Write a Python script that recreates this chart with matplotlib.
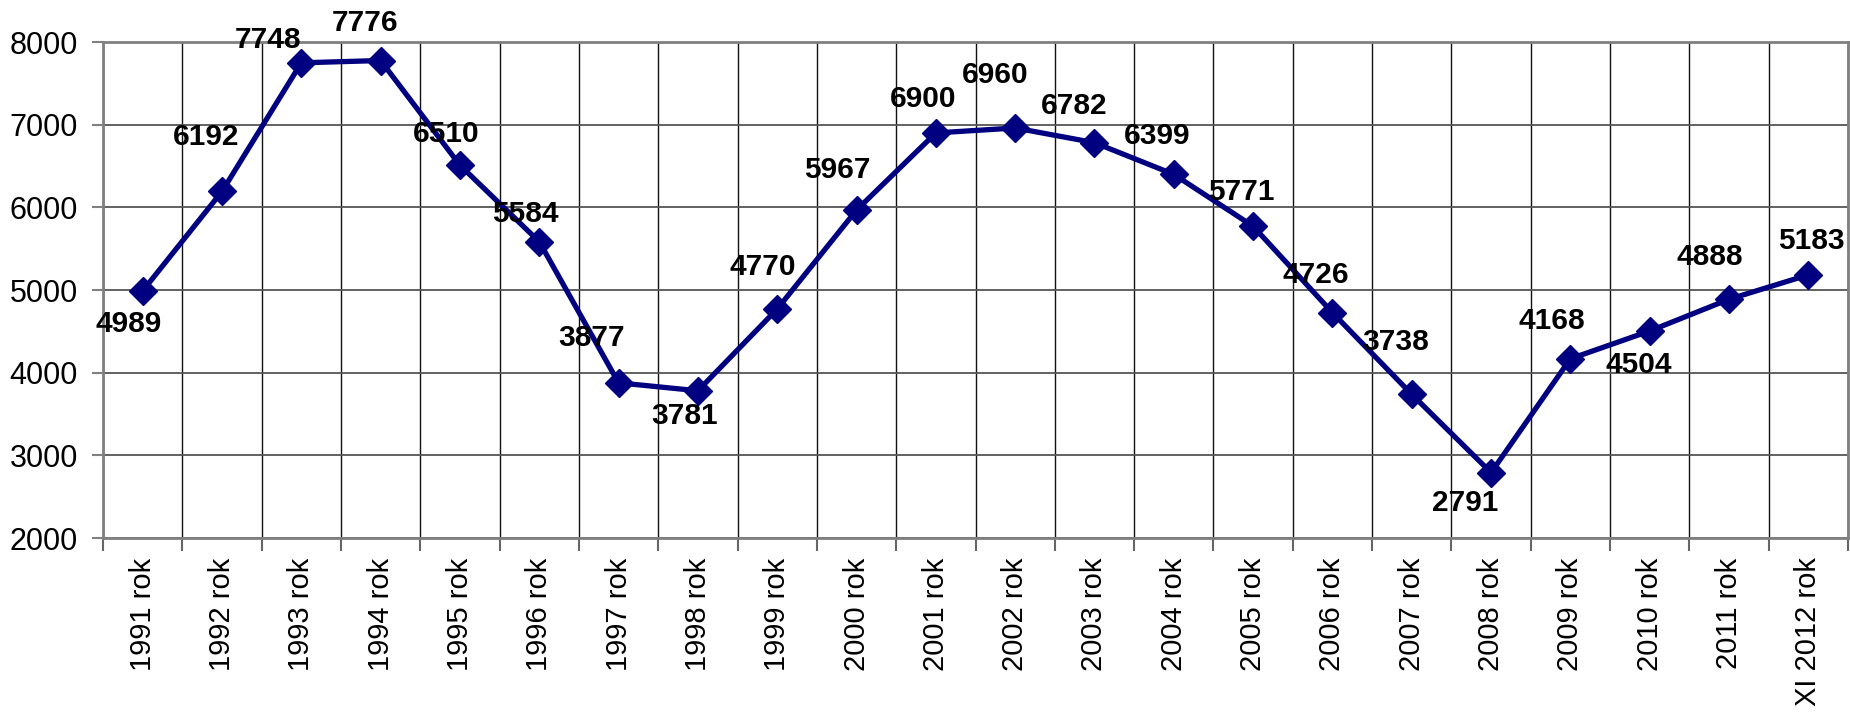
import matplotlib
matplotlib.use("Agg")
import matplotlib.pyplot as plt
from matplotlib.ticker import FixedLocator

# Data
years = ["1991 rok", "1992 rok", "1993 rok", "1994 rok", "1995 rok",
         "1996 rok", "1997 rok", "1998 rok", "1999 rok", "2000 rok",
         "2001 rok", "2002 rok", "2003 rok", "2004 rok", "2005 rok",
         "2006 rok", "2007 rok", "2008 rok", "2009 rok", "2010 rok",
         "2011 rok", "XI 2012 rok"]
values = [4989, 6192, 7748, 7776, 6510, 5584, 3877, 3781, 4770, 5967,
          6900, 6960, 6782, 6399, 5771, 4726, 3738, 2791, 4168, 4504,
          4888, 5183]

# label placement relative to each marker (pixels, dx / dy, y up)
label_dx = [-14, -16, -33, -16, -14, -14, -27, -13, -14, -19, -13,
            -20, -20, -17, -12, -17, -16, -26, -19, -11, -19, 3]
label_dy = [-33, 54, 23, 38, 31, 28, 45, -25, 42, 40, 34,
            53, 37, 38, 34, 38, 52, -30, 38, -34, 42, 34]

plt.rcParams["font.family"] = ["Liberation Sans", "DejaVu Sans"]

fig = plt.figure(figsize=(18.5, 7.12), dpi=100)
ax = fig.add_axes([103 / 1850, 1 - 538 / 712, 1745 / 1850, 496 / 712])

x = list(range(len(values)))
ax.plot(x, values, color="#000080", linewidth=3.8, marker="D",
        markersize=14.5, markeredgecolor="#000080", zorder=3)

for xi, v, dx, dy in zip(x, values, label_dx, label_dy):
    ax.annotate(str(v), (xi, v), xytext=(dx, dy), textcoords="offset pixels",
                ha="center", va="center", fontsize=21.5, fontweight="bold",
                color="black", zorder=4)

ax.set_xlim(-0.5, len(values) - 0.5)
ax.set_ylim(2000, 8000)
ax.set_yticks(range(2000, 8001, 1000))

# category boundaries carry ticks and grid, centres carry the labels
ax.xaxis.set_major_locator(FixedLocator([i - 0.5 for i in range(len(values) + 1)]))
ax.xaxis.set_minor_locator(FixedLocator(x))
ax.set_xticklabels([], minor=False)
ax.set_xticklabels(years, minor=True, rotation=90, va="top", ha="center")

ax.tick_params(axis="x", which="major", length=9, width=1.5, color="#666666")
ax.tick_params(axis="x", which="minor", length=0, pad=14, labelsize=21)
ax.tick_params(axis="y", length=8, width=1.5, color="#808080", pad=10,
               labelsize=22)

ax.grid(axis="x", which="major", color="#111111", linewidth=1.0)
ax.grid(axis="y", color="#555555", linewidth=1.3)
ax.set_axisbelow(True)

for s in ax.spines.values():
    s.set_color("#808080")
    s.set_linewidth(2)

fig.savefig("out.png", dpi=100, facecolor="white")
